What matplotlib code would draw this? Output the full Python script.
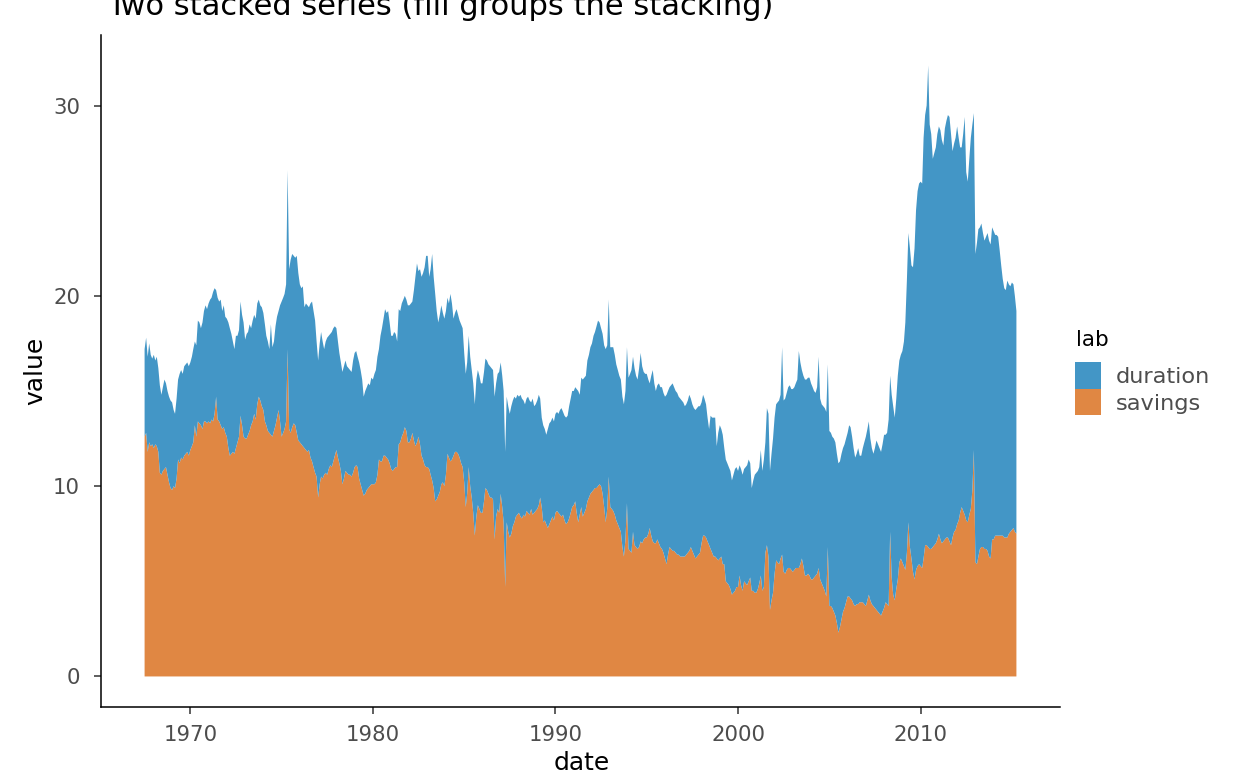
import numpy as np
import pandas as pd
import matplotlib
matplotlib.use("Agg")
import matplotlib.pyplot as plt
import matplotlib.dates as mdates
from matplotlib.patches import Rectangle

# --- Data (monthly, Jul 1967 - Apr 2015), one row per year ---
months = pd.date_range("1967-07-01", "2015-04-01", freq="MS")

savings = [
    12.6, 12.8, 11.8, 12.3, 12.1, 12.2,
    12.0, 12.2, 12.1, 11.8, 10.7, 10.6, 10.8, 10.9, 11.0, 10.6, 10.2, 9.9,
    9.8, 10.0, 9.9, 10.4, 11.4, 11.2, 11.5, 11.4, 11.6, 11.7, 11.8, 11.6,
    11.9, 12.1, 12.3, 13.2, 12.6, 13.4, 13.3, 13.2, 13.0, 13.4, 13.4, 13.3,
    13.4, 13.3, 13.5, 13.4, 13.8, 14.7, 13.5, 13.4, 13.2, 13.0, 13.1, 12.8,
    12.6, 12.0, 11.6, 11.7, 11.8, 11.7, 12.0, 12.3, 12.6, 13.7, 13.2, 12.6,
    12.5, 12.5, 12.7, 12.9, 13.2, 13.4, 13.8, 13.5, 14.3, 14.7, 14.5, 14.2,
    14.0, 13.4, 13.2, 12.9, 12.8, 12.7, 12.6, 12.9, 13.2, 13.6, 14.0, 13.4,
    12.6, 12.8, 13.0, 13.4, 17.2, 13.0, 12.8, 13.1, 13.3, 13.2, 12.8, 12.4,
    12.3, 12.2, 12.1, 12.0, 11.9, 11.8, 11.9, 11.5, 11.3, 11.0, 10.7, 10.5,
    9.4, 10.1, 10.5, 10.4, 10.6, 10.7, 10.6, 10.9, 11.1, 11.0, 11.3, 11.6,
    11.9, 11.5, 11.2, 10.8, 10.1, 10.4, 10.8, 10.7, 10.6, 10.6, 10.5, 10.7,
    11.0, 11.1, 11.0, 10.4, 10.1, 9.8, 9.5, 9.6, 9.8, 9.9, 10.0, 10.1,
    10.1, 10.1, 10.2, 10.6, 11.4, 11.3, 11.3, 11.6, 11.6, 11.5, 11.4, 11.2,
    10.9, 10.8, 10.9, 11.0, 11.0, 12.2, 12.3, 12.6, 12.8, 13.1, 12.9, 12.3,
    12.3, 12.5, 12.8, 12.4, 12.1, 12.3, 12.6, 12.2, 11.6, 11.4, 11.1, 11.0,
    11.0, 10.9, 10.6, 10.3, 9.9, 9.2, 9.3, 9.5, 9.7, 10.1, 10.2, 10.0,
    10.6, 11.7, 11.5, 11.3, 11.4, 11.6, 11.8, 11.8, 11.7, 11.5, 11.2, 11.0,
    10.2, 8.9, 9.6, 11.0, 10.0, 9.4, 8.6, 7.4, 8.4, 9.0, 8.8, 8.6,
    8.6, 9.2, 9.9, 9.8, 9.6, 9.4, 9.4, 9.3, 7.2, 8.4, 8.8, 8.6,
    9.6, 8.9, 8.1, 4.7, 8.1, 7.6, 7.3, 7.5, 7.9, 8.1, 8.4, 8.5,
    8.6, 8.4, 8.3, 8.5, 8.4, 8.7, 8.6, 8.5, 8.8, 8.5, 8.6, 8.7,
    8.8, 9.0, 9.4, 8.9, 8.1, 8.2, 8.0, 7.8, 8.0, 8.2, 8.4, 8.2,
    8.6, 8.7, 8.6, 8.5, 8.4, 8.5, 8.2, 8.0, 8.1, 8.3, 8.6, 8.9,
    9.0, 9.2, 8.6, 8.1, 8.5, 8.9, 8.4, 8.6, 8.8, 9.2, 9.4, 9.6,
    9.7, 9.8, 9.9, 9.9, 10.0, 10.1, 10.0, 9.6, 8.9, 8.1, 8.8, 10.5,
    8.9, 8.8, 8.7, 8.5, 8.2, 8.0, 7.8, 7.6, 6.8, 6.3, 7.2, 9.1,
    6.7, 6.6, 6.5, 7.6, 6.9, 6.8, 6.7, 6.8, 7.1, 7.0, 7.2, 7.3,
    7.3, 7.5, 7.8, 7.4, 7.1, 7.0, 7.0, 7.2, 7.0, 6.8, 6.7, 6.5,
    6.2, 5.9, 6.4, 6.8, 6.7, 6.6, 6.6, 6.5, 6.4, 6.4, 6.3, 6.3,
    6.3, 6.3, 6.4, 6.5, 6.6, 6.8, 6.6, 6.4, 6.2, 6.3, 6.4, 6.5,
    7.0, 7.4, 7.4, 7.3, 7.1, 6.9, 6.7, 6.5, 6.3, 6.3, 6.2, 6.1,
    6.2, 6.3, 5.9, 5.9, 5.0, 4.9, 4.8, 4.6, 4.3, 4.4, 4.5, 4.7,
    4.7, 5.3, 4.8, 4.5, 5.0, 4.9, 4.8, 5.0, 5.2, 4.5, 4.5, 4.4,
    4.4, 4.6, 4.9, 5.3, 4.5, 4.7, 6.5, 6.9, 6.3, 3.5, 4.0, 4.4,
    5.4, 6.1, 6.0, 5.9, 6.2, 6.4, 5.5, 5.4, 5.6, 5.7, 5.7, 5.6,
    5.5, 5.6, 5.7, 5.7, 5.7, 5.9, 6.2, 5.8, 5.3, 5.3, 5.4, 5.3,
    5.1, 5.1, 5.2, 5.3, 5.4, 5.7, 5.1, 4.9, 4.7, 4.5, 4.2, 6.8,
    3.7, 3.7, 3.6, 3.4, 3.2, 2.8, 2.3, 2.6, 3.0, 3.4, 3.6, 3.9,
    4.2, 4.2, 4.1, 4.0, 3.8, 3.7, 3.8, 3.8, 3.9, 3.9, 3.9, 3.8,
    3.7, 4.0, 4.3, 4.0, 3.8, 3.7, 3.6, 3.5, 3.4, 3.3, 3.2, 3.4,
    3.6, 3.9, 3.8, 3.7, 7.6, 5.2, 4.3, 4.0, 4.6, 5.1, 6.0, 6.2,
    6.0, 5.8, 5.6, 6.5, 8.1, 6.8, 6.2, 5.5, 5.1, 5.6, 5.8, 5.9,
    5.8, 5.7, 6.2, 6.9, 6.9, 6.8, 6.7, 6.7, 6.8, 6.9, 7.0, 7.2,
    7.5, 7.2, 7.0, 7.1, 7.2, 7.3, 7.3, 7.1, 6.9, 7.3, 7.6, 7.7,
    8.0, 8.2, 8.6, 8.9, 8.7, 8.5, 8.2, 8.1, 8.5, 8.8, 9.8, 11.9,
    6.0, 5.9, 6.3, 6.7, 6.8, 6.8, 6.7, 6.7, 6.6, 6.3, 6.2, 7.2,
    7.2, 7.4, 7.4, 7.4, 7.4, 7.4, 7.4, 7.3, 7.3, 7.3, 7.5, 7.6,
    7.7, 7.8, 7.6, 7.5,
]

duration = [
    4.6, 5.0, 5.0, 5.2, 4.8, 4.5,
    4.9, 4.4, 4.7, 4.4, 4.6, 4.2, 4.4, 4.7, 4.4, 4.4, 4.5, 4.6,
    4.6, 4.0, 3.9, 4.2, 4.2, 4.7, 4.6, 4.5, 4.7, 4.7, 4.7, 4.7,
    4.6, 4.7, 4.9, 4.4, 4.8, 5.3, 5.3, 5.1, 5.6, 5.8, 6.1, 6.0,
    6.2, 6.5, 6.4, 6.8, 6.6, 5.6, 6.4, 6.3, 6.6, 6.2, 6.4, 6.1,
    6.2, 6.6, 6.7, 6.3, 5.8, 5.5, 5.9, 5.6, 5.6, 6.0, 5.8, 6.0,
    5.2, 5.5, 5.4, 5.6, 5.1, 5.3, 5.2, 5.3, 5.3, 5.1, 5.0, 5.2,
    5.1, 5.1, 4.7, 4.7, 4.4, 5.8, 4.7, 4.7, 5.2, 5.3, 5.2, 6.1,
    7.1, 7.1, 7.1, 7.2, 9.4, 8.4, 9.1, 9.1, 8.8, 8.8, 9.3, 8.8,
    8.3, 8.2, 8.4, 7.4, 7.7, 7.7, 7.5, 8.1, 8.4, 8.2, 8.0, 7.1,
    7.2, 7.4, 7.6, 7.2, 6.6, 6.9, 7.2, 7.0, 6.9, 7.1, 7.0, 6.8,
    6.4, 6.1, 5.8, 5.7, 5.9, 5.9, 5.8, 5.6, 5.6, 5.5, 5.5, 5.9,
    6.0, 6.0, 5.8, 6.1, 6.0, 5.8, 5.2, 5.4, 5.4, 5.5, 5.3, 5.6,
    5.5, 5.8, 5.9, 6.2, 5.8, 6.6, 7.0, 7.2, 7.7, 7.6, 7.8, 7.4,
    7.0, 7.1, 7.2, 7.0, 6.6, 7.1, 6.9, 7.0, 7.0, 6.9, 6.9, 7.2,
    7.2, 7.1, 6.9, 7.9, 8.9, 9.4, 8.7, 9.2, 9.4, 9.8, 10.4, 11.1,
    11.1, 10.1, 10.8, 11.9, 11.1, 10.9, 9.9, 9.1, 9.3, 9.4, 8.9, 8.8,
    8.6, 8.2, 8.1, 8.8, 8.2, 7.2, 7.3, 7.5, 7.3, 7.2, 7.3, 7.3,
    6.8, 7.0, 6.9, 6.9, 6.8, 6.7, 6.8, 6.9, 7.2, 7.1, 7.0, 6.8,
    6.8, 6.8, 6.8, 6.8, 6.8, 6.9, 6.8, 6.8, 7.5, 7.0, 7.1, 7.4,
    6.9, 6.9, 6.9, 7.1, 6.6, 6.6, 6.5, 6.7, 6.6, 6.6, 6.2, 6.3,
    6.1, 6.4, 6.3, 6.0, 5.9, 5.9, 6.1, 6.0, 5.6, 6.1, 5.6, 5.6,
    5.7, 5.8, 5.2, 4.7, 5.1, 4.8, 4.7, 5.2, 5.3, 5.2, 5.2, 5.2,
    5.2, 5.2, 5.2, 5.5, 5.7, 5.4, 5.5, 5.6, 5.6, 5.9, 6.0, 6.1,
    6.0, 6.0, 6.5, 6.9, 6.3, 6.8, 7.2, 7.1, 7.0, 7.4, 7.5, 7.7,
    7.8, 8.1, 8.2, 8.5, 8.7, 8.5, 8.3, 8.4, 8.5, 9.1, 8.6, 9.3,
    8.4, 8.5, 8.6, 8.4, 8.2, 8.1, 8.0, 8.0, 7.9, 8.0, 7.8, 8.2,
    9.0, 9.3, 9.6, 9.2, 9.3, 9.0, 8.9, 9.4, 9.9, 9.3, 8.8, 8.6,
    8.6, 8.1, 7.6, 8.4, 9.0, 8.4, 8.0, 8.1, 8.4, 8.4, 8.5, 8.4,
    8.5, 8.9, 8.6, 8.4, 8.6, 8.8, 8.6, 8.5, 8.5, 8.3, 8.3, 8.2,
    8.1, 7.9, 7.9, 8.0, 8.2, 7.8, 7.7, 7.7, 7.8, 7.8, 7.8, 7.7,
    7.4, 7.4, 7.2, 7.0, 6.5, 6.1, 7.0, 7.1, 7.3, 7.3, 5.9, 6.7,
    7.0, 6.7, 6.8, 6.1, 6.4, 6.3, 6.2, 6.2, 6.0, 6.2, 6.4, 6.3,
    6.1, 5.8, 6.1, 6.1, 5.9, 6.1, 6.3, 6.4, 6.0, 5.4, 5.8, 6.2,
    6.3, 6.2, 6.1, 6.6, 6.3, 6.7, 5.8, 7.2, 7.5, 7.3, 7.7, 8.1,
    8.2, 8.2, 8.4, 8.6, 8.6, 10.9, 9.0, 9.2, 9.3, 9.5, 9.6, 9.5,
    9.6, 9.6, 9.7, 9.9, 11.4, 10.6, 9.9, 10.0, 10.3, 10.3, 10.3, 10.4,
    10.3, 10.1, 9.8, 9.6, 9.8, 11.1, 9.5, 9.4, 9.5, 9.6, 9.7, 9.6,
    9.2, 9.1, 9.0, 9.1, 9.1, 8.9, 8.9, 8.7, 8.7, 8.6, 8.6, 8.6,
    8.6, 9.0, 9.0, 8.6, 8.2, 7.8, 7.9, 8.2, 7.7, 7.7, 8.1, 8.5,
    8.9, 9.0, 9.1, 8.5, 8.2, 8.0, 8.4, 8.9, 8.8, 8.7, 8.6, 8.8,
    9.1, 8.8, 9.0, 9.8, 8.2, 9.6, 9.9, 9.6, 10.0, 10.7, 10.6, 10.7,
    11.1, 11.8, 13.0, 14.3, 15.2, 15.7, 15.4, 16.0, 17.4, 18.9, 19.7, 20.0,
    20.2, 20.2, 22.1, 22.6, 23.1, 25.3, 22.3, 21.8, 20.4, 20.6, 20.8, 21.3,
    21.4, 21.5, 21.2, 20.8, 21.6, 21.9, 22.2, 22.3, 21.6, 20.3, 20.4, 20.6,
    20.9, 20.1, 19.2, 18.9, 19.8, 20.9, 18.3, 17.9, 18.7, 19.5, 19.2, 17.7,
    16.2, 16.9, 17.2, 16.9, 17.0, 16.5, 16.2, 16.4, 16.7, 16.6, 16.5, 16.4,
    16.2, 15.8, 15.8, 15.7, 15.0, 14.2, 13.5, 13.1, 13.0, 13.5, 13.1, 12.9,
    13.0, 12.8, 12.4, 11.7,
]

series_labels = ["duration", "savings"]
tick_years = [1970, 1980, 1990, 2000, 2010]

BLUE = "#4396C6"
ORANGE = "#E08743"
W, H = 1248, 771

# --- Figure ---
fig = plt.figure(figsize=(W / 100, H / 100), dpi=100)
ax = fig.add_axes([101 / W, 64 / H, 959 / W, 672 / H])

# savings stacked at the bottom, duration on top
ax.stackplot(months, savings, duration, colors=[ORANGE, BLUE], linewidth=0)

# ggplot-like 5% expansion
x0 = mdates.date2num(months[0])
x1 = mdates.date2num(months[-1])
pad_x = (x1 - x0) * 0.05
ax.set_xlim(x0 - pad_x, x1 + pad_x)
ymax = max(np.array(savings) + np.array(duration))
ax.set_ylim(-0.05 * ymax, ymax * 1.05)

ax.set_xticks([mdates.date2num(pd.Timestamp(f"{y}-01-01")) for y in tick_years])
ax.set_xticklabels([str(y) for y in tick_years])
ax.set_yticks([0, 10, 20, 30])

for side in ["top", "right"]:
    ax.spines[side].set_visible(False)
for side in ["left", "bottom"]:
    ax.spines[side].set_linewidth(1.1)
    ax.spines[side].set_color("black")

ax.tick_params(axis="both", length=5, width=1.1, color="#333333",
               labelsize=15.3, labelcolor="#4D4D4D")
ax.tick_params(axis="y", pad=10)
ax.tick_params(axis="x", pad=8)

# titles
fig.text(107 / W, 1 - 15 / H, "Two stacked series (fill groups the stacking)",
         fontsize=22, va="baseline", ha="left", color="black")
fig.text(35 / W, 1 - 371 / H, "value", rotation=90, fontsize=18,
         va="center", ha="center", color="black")
fig.text(582 / W, 1 - 770 / H, "date", fontsize=18,
         va="baseline", ha="center", color="black")

# legend, drawn by hand to match the ggplot key layout
fig.text(1076 / W, 1 - 346 / H, "lab", fontsize=15.5, va="baseline",
         ha="left", color="black")
key_top = 362
key_h = 26.5
for i, (lab, col) in enumerate(zip(series_labels, [BLUE, ORANGE])):
    top = key_top + i * key_h
    fig.add_artist(Rectangle((1075 / W, 1 - (top + key_h) / H), 26 / W, key_h / H,
                             transform=fig.transFigure, facecolor=col,
                             edgecolor="none"))
    fig.text(1116 / W, 1 - (top + key_h / 2) / H, lab, fontsize=16.2,
             va="center_baseline", ha="left", color="#4D4D4D")

fig.savefig("out.png", dpi=100)
